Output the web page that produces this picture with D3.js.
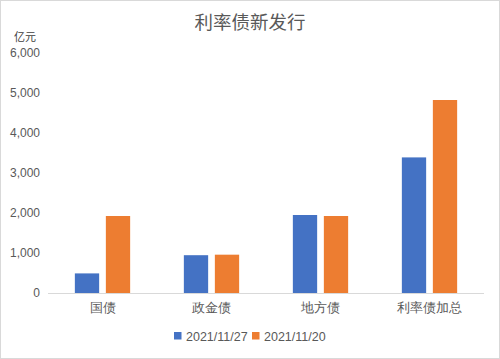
<!DOCTYPE html>
<html><head><meta charset="utf-8">
<script src="https://cdn.jsdelivr.net/npm/d3@7"></script>
<style>body{margin:0;background:#fff}svg{display:block;font-family:"Noto Sans CJK SC","Noto Sans",sans-serif}</style>
</head><body><svg id="c" width="500" height="359"></svg>
<script>
const categories = ["国债","政金债","地方债","利率债加总"];
const seriesNames = ["2021/11/27","2021/11/20"];
const values1127 = [490, 945, 1950, 3390];
const values1120 = [1925, 958, 1925, 4825];
const yTicks = [0,1000,2000,3000,4000,5000,6000];
const colors = ["#4472C4","#ED7D31"];

const svg = d3.select("#c");
svg.append("rect").attr("x",0.5).attr("y",0.5).attr("width",499).attr("height",358)
  .attr("fill","#fff").attr("stroke","#D9D9D9");

const L=48, R=484, T=53, B=293;
const x = d3.scaleBand().domain(categories).range([L,R]).paddingInner(0).paddingOuter(0);
const y = d3.scaleLinear().domain([0,6000]).range([B,T]);
const barW = 24.3, gap = 6.7;

svg.append("text").attr("x",250).attr("y",29).attr("text-anchor","middle")
  .attr("font-size",18.5).attr("fill","#595959").text("利率债新发行");
svg.append("text").attr("x",25).attr("y",41).attr("text-anchor","middle")
  .attr("font-size",11).attr("fill","#404040").text("亿元");

const yAxis = d3.axisLeft(y).tickValues(yTicks).tickFormat(d3.format(",")).tickSize(0).tickPadding(0);
const ga = svg.append("g").attr("transform",`translate(40,0)`).call(yAxis);
ga.select(".domain").remove();
ga.selectAll("text").attr("font-size",12).attr("fill","#595959")
  .attr("font-family","'Liberation Sans',Arial,sans-serif");

const series = [values1127, values1120];
series.forEach((vals,si)=>{
  svg.append("g").selectAll("rect").data(categories).join("rect")
    .attr("x",(c)=>x(c)+x.bandwidth()/2 + (si===0 ? -gap/2-barW : gap/2))
    .attr("width",barW)
    .attr("y",(c,i)=>y(vals[i]))
    .attr("height",(c,i)=>y(0)-y(vals[i]))
    .attr("fill",colors[si]);
});

const xAxis = d3.axisBottom(x).tickSize(0).tickPadding(10);
const gx = svg.append("g").attr("transform",`translate(0,${B})`).call(xAxis);
gx.select(".domain").attr("stroke","#D9D9D9").attr("d",`M${L},0.5H${R}`);
gx.selectAll("text").attr("font-size",12.5).attr("fill","#595959");

const legend = [{x:174},{x:252}];
seriesNames.forEach((n,i)=>{
  const g = svg.append("g").attr("transform",`translate(${legend[i].x},0)`);
  g.append("rect").attr("x",0).attr("y",332).attr("width",7.5).attr("height",7.5).attr("fill",colors[i]);
  g.append("text").attr("x",12).attr("y",340.5).attr("font-size",12.5).attr("fill","#595959")
    .attr("font-family","'Liberation Sans',Arial,sans-serif").text(n);
});
</script></body></html>
